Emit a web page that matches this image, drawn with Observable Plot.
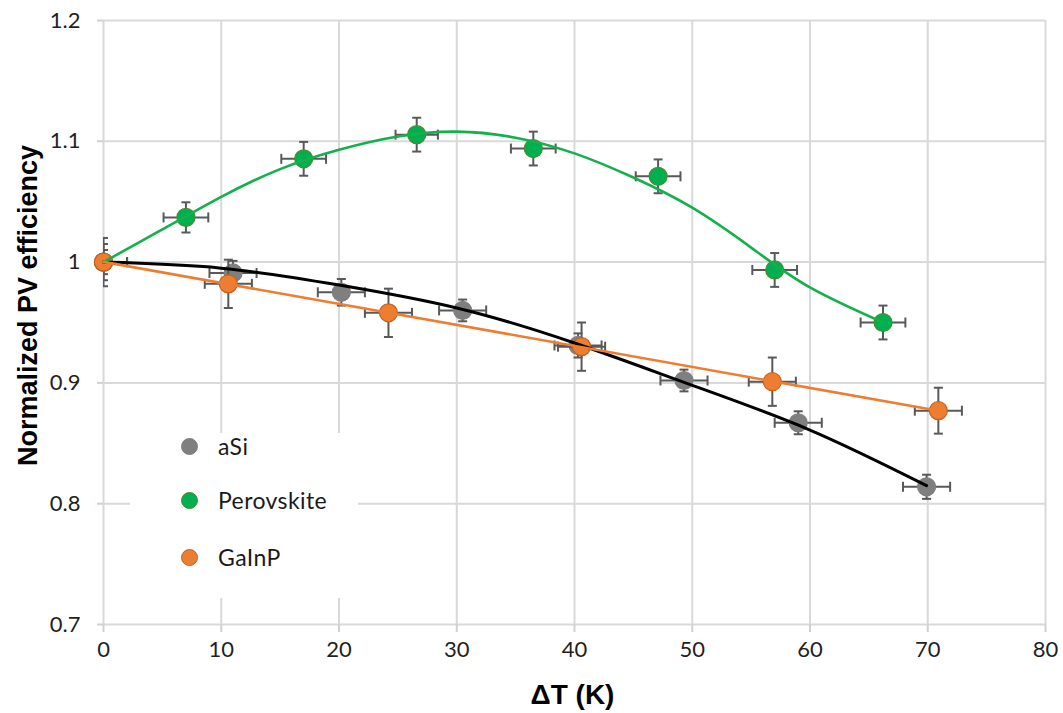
<!DOCTYPE html>
<html>
<head>
<meta charset="utf-8">
<script src="https://cdn.jsdelivr.net/npm/d3@7"></script>
<script src="https://cdn.jsdelivr.net/npm/@observablehq/plot@0.6"></script>
<style>
  html, body { margin: 0; padding: 0; background: #fff; }
  #wrap { position: relative; width: 1063px; height: 713px; }
  #legend { position: absolute; left: 130px; top: 433px; width: 228px; height: 165px; background: #fff;
            font-family: Lato, "Open Sans", sans-serif; font-size: 23px; letter-spacing: 0.4px; color: #1a1a1a; }
  .item { position: absolute; left: 0; height: 24px; display: flex; align-items: center; }
  .sw { position: absolute; left: 51px; width: 17px; height: 17px; border-radius: 50%; box-sizing: border-box; }
  .lbl { position: absolute; left: 88px; white-space: nowrap; line-height: 24px; }
</style>
</head>
<body>
<div id="wrap"></div>
<script>
// ---- data ----
const xTicks = [0, 10, 20, 30, 40, 50, 60, 70, 80];
const yTicks = [0.7, 0.8, 0.9, 1.0, 1.1, 1.2];

const seriesNames = ["aSi", "Perovskite", "GaInP"];

const asiX    = [0, 11.0, 20.2, 30.5, 40.3, 49.3, 59.0, 69.9];
const asiY    = [1.0, 0.991, 0.975, 0.960, 0.931, 0.902, 0.867, 0.814];
const asiXErr = [2, 2, 2, 2, 2, 2, 2, 2];
const asiYErr = [0.01, 0.01, 0.011, 0.009, 0.01, 0.009, 0.0095, 0.01];

const perX    = [0, 7.0, 17.0, 26.6, 36.5, 47.1, 57.0, 66.2];
const perY    = [1.0, 1.037, 1.0855, 1.1055, 1.094, 1.071, 0.9935, 0.950];
const perXErr = [2, 1.9, 1.9, 1.8, 1.9, 1.9, 1.9, 1.9];
const perYErr = [0.015, 0.0125, 0.014, 0.014, 0.014, 0.014, 0.014, 0.014];

const gaX    = [0, 10.6, 24.2, 40.6, 56.8, 70.9];
const gaY    = [1.0, 0.982, 0.958, 0.930, 0.901, 0.877];
const gaXErr = [2, 2, 2, 2, 2, 2];
const gaYErr = [0.02, 0.02, 0.02, 0.02, 0.02, 0.019];

// trend curves
const perTrendX = [0, 5, 10, 15, 20, 25, 30, 35, 40, 45, 50, 55, 60, 66.2];
const perTrendY = [1.0, 1.027, 1.054, 1.077, 1.093, 1.104, 1.108, 1.103, 1.090, 1.070, 1.045, 1.012, 0.979, 0.950];
const asiTrendX = [0, 10, 20, 30, 40, 50, 60, 69.9];
const asiTrendY = [1.0, 0.995, 0.981, 0.962, 0.933, 0.898, 0.861, 0.815];

const colors = { aSi: "#7f7f7f", Perovskite: "#00b050", GaInP: "#ed7d31" };
const strokes = { aSi: "#7f7f7f", Perovskite: "#4e8a2e", GaInP: "#c9621c" };
const lineColors = { aSi: "#000000", Perovskite: "#13b04c", GaInP: "#ed7d31" };

// ---- build tables ----
const rows = (X, Y, XE, YE, s) => X.map((x, i) => ({ x, y: Y[i], xe: XE[i], ye: YE[i], s }));
const asi = rows(asiX, asiY, asiXErr, asiYErr, "aSi");
const per = rows(perX, perY, perXErr, perYErr, "Perovskite");
const ga  = rows(gaX, gaY, gaXErr, gaYErr, "GaInP");
const perTrend = perTrendX.map((x, i) => ({ x, y: perTrendY[i] }));
const asiTrend = asiTrendX.map((x, i) => ({ x, y: asiTrendY[i] }));

// cap symbols (pixel-sized)
const hCap = { draw(ctx, size) { const r = Math.sqrt(size / Math.PI); ctx.moveTo(-r, 0); ctx.lineTo(r, 0); } };
const vCap = { draw(ctx, size) { const r = Math.sqrt(size / Math.PI); ctx.moveTo(0, -r); ctx.lineTo(0, r); } };

const errColor = "#595959";
function seriesMarks(data) {
  const name = data[0].s;
  return [
    Plot.link(data, { x1: d => d.x - d.xe, x2: d => d.x + d.xe, y1: "y", y2: "y", stroke: errColor, strokeWidth: 2, clip: true }),
    Plot.link(data, { x1: "x", x2: "x", y1: d => d.y - d.ye, y2: d => d.y + d.ye, stroke: errColor, strokeWidth: 2, clip: true }),
    Plot.dot(data, { x: d => d.x - d.xe, y: "y", symbol: vCap, r: 5, fill: "none", stroke: errColor, strokeWidth: 2, clip: true }),
    Plot.dot(data, { x: d => d.x + d.xe, y: "y", symbol: vCap, r: 5, fill: "none", stroke: errColor, strokeWidth: 2, clip: true }),
    Plot.dot(data, { x: "x", y: d => d.y - d.ye, symbol: hCap, r: 4.5, fill: "none", stroke: errColor, strokeWidth: 2, clip: true }),
    Plot.dot(data, { x: "x", y: d => d.y + d.ye, symbol: hCap, r: 4.5, fill: "none", stroke: errColor, strokeWidth: 2, clip: true }),
    Plot.dot(data, { x: "x", y: "y", r: 9, fill: colors[name], stroke: strokes[name], strokeWidth: 1.2 })
  ];
}

const grid = { stroke: "#d9d9d9", strokeOpacity: 1, strokeWidth: 2 };

const chart = Plot.plot({
  width: 1063,
  height: 713,
  marginLeft: 103,
  marginRight: 18,
  marginTop: 20,
  marginBottom: 89,
  style: { fontFamily: "Lato, 'Open Sans', sans-serif", fontSize: "21px", color: "#1f1f1f", background: "#fff" },
  x: { domain: [0, 80] },
  y: { domain: [0.7, 1.2] },
  marks: [
    Plot.gridX(xTicks, grid),
    Plot.gridY(yTicks, grid),
    Plot.axisX(xTicks, { tickSize: 8, tickPadding: 9, stroke: "#d0d0d0", strokeWidth: 2, label: null, fontSize: 22 }),
    Plot.axisY(yTicks, { tickSize: 6, tickPadding: 17, stroke: "#d0d0d0", strokeWidth: 2, label: null, fontSize: 22, tickFormat: d => String(d) }),
    ...seriesMarks(asi),
    ...seriesMarks(per),
    ...seriesMarks(ga),
    Plot.line(asiTrend, { x: "x", y: "y", curve: "natural", stroke: lineColors.aSi, strokeWidth: 3 }),
    Plot.line(perTrend, { x: "x", y: "y", curve: "natural", stroke: lineColors.Perovskite, strokeWidth: 2.6 }),
    Plot.linearRegressionY(ga, { x: "x", y: "y", ci: 0, stroke: lineColors.GaInP, strokeWidth: 2.6 }),
    Plot.text(["Normalized PV efficiency"], { frameAnchor: "left", textAnchor: "middle", rotate: -90, dx: -75, dy: -17,
      fontSize: 27, fontWeight: "bold", fontFamily: "'Liberation Sans', Arial, sans-serif", fill: "#000" }),
    Plot.text(["ΔT (K)"], { frameAnchor: "bottom", dy: 71, dx: -2, lineAnchor: "middle",
      fontSize: 28, fontWeight: "bold", fontFamily: "'Liberation Sans', Arial, sans-serif", fill: "#000" })
  ]
});

const wrap = document.getElementById("wrap");
wrap.appendChild(chart);

// legend overlay
const legend = document.createElement("div");
legend.id = "legend";
const legendTops = [1, 55, 112];
seriesNames.forEach((n, i) => {
  const item = document.createElement("div");
  item.className = "item";
  item.style.top = legendTops[i] + "px";
  const sw = document.createElement("div");
  sw.className = "sw";
  sw.style.background = colors[n];
  sw.style.border = "1.2px solid " + strokes[n];
  const lbl = document.createElement("div");
  lbl.className = "lbl";
  lbl.textContent = n;
  item.appendChild(sw);
  item.appendChild(lbl);
  legend.appendChild(item);
});
wrap.appendChild(legend);
</script>
</body>
</html>
